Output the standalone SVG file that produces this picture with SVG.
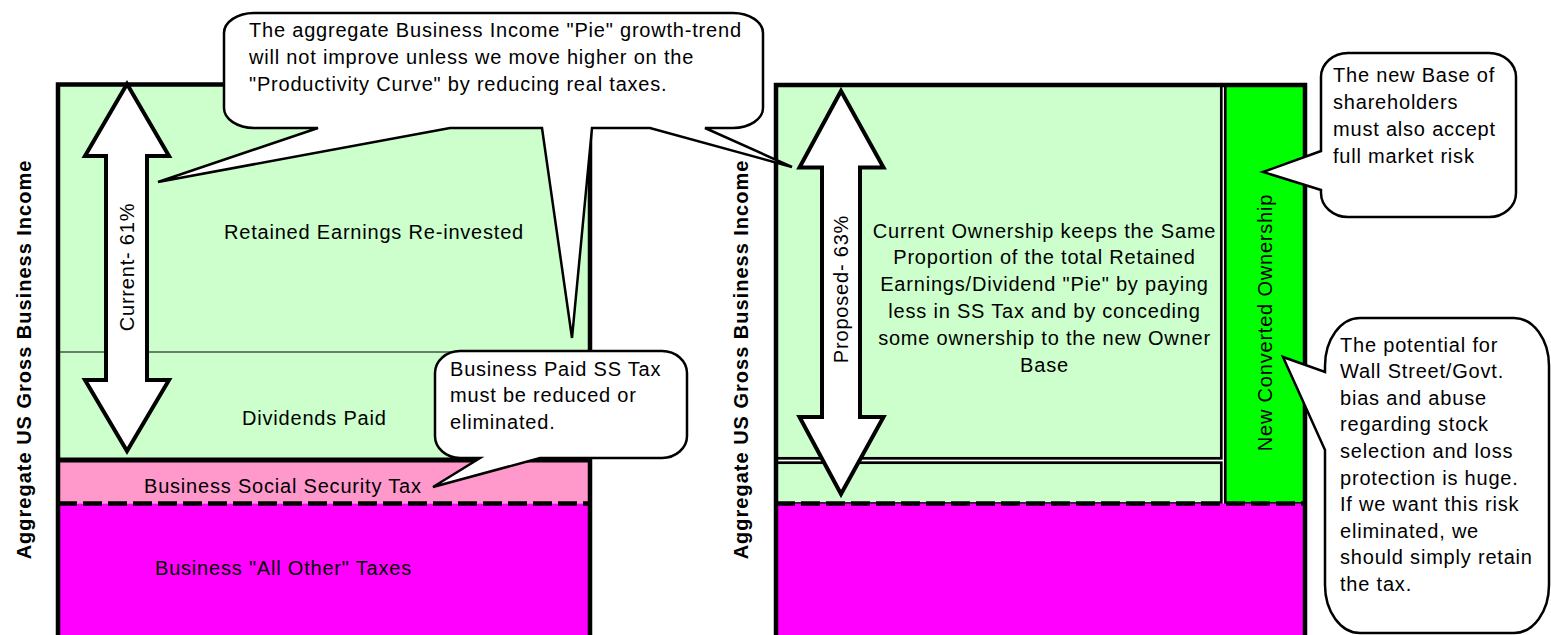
<svg xmlns="http://www.w3.org/2000/svg" width="1551" height="635" viewBox="0 0 1551 635">
<style>
text{font-family:"Liberation Sans",Arial,sans-serif;font-size:20px;fill:#000;letter-spacing:0.8px}
.b{font-weight:bold;letter-spacing:1px}
.c{text-anchor:middle}
.call{fill:#fff;stroke:#000;stroke-width:2.5;stroke-linejoin:miter}
.arr{fill:#fff;stroke:#000;stroke-width:4;stroke-linejoin:miter;stroke-miterlimit:10}
.dash{stroke:#000;stroke-width:4.5;stroke-dasharray:19 6;fill:none}
.border{fill:none;stroke:#000;stroke-width:4.5}
.thin{stroke:#000;stroke-width:2.7}
</style>
<rect width="1551" height="635" fill="#fff"/>

<g id="label-left">
<text class="b c" transform="translate(31,359.5) rotate(-90)">Aggregate US Gross Business Income</text>
</g>
<g id="label-right">
<text class="b c" transform="translate(748,359.5) rotate(-90)">Aggregate US Gross Business Income</text>
</g>

<g id="current-box">
<rect x="58" y="84.5" width="532" height="375" fill="#CCFFCC"/>
<rect x="58" y="459.5" width="532" height="44" fill="#FF99CC"/>
<rect x="58" y="503.5" width="532" height="140" fill="#FF00FF"/>
<line x1="58" y1="352" x2="590" y2="352" stroke="#000" stroke-width="1.2"/>
<line x1="58" y1="460" x2="590" y2="460" stroke="#000" stroke-width="5"/>
<line x1="58" y1="503.5" x2="590" y2="503.5" class="dash"/>
<path class="border" d="M58 640 V84.5 H590 V640"/>
<text x="224" y="239">Retained Earnings Re-invested</text>
<text x="242" y="425">Dividends Paid</text>
<text x="144" y="493">Business Social Security Tax</text>
<text x="155" y="575">Business "All Other" Taxes</text>
</g>

<g id="proposed-box">
<rect x="776" y="85" width="445.3" height="373.3" fill="#CCFFCC" class="thin"/>
<rect x="776" y="462.7" width="445.3" height="40.8" fill="#CCFFCC" class="thin"/>
<rect x="1225.3" y="85" width="79.7" height="418.5" fill="#00FF00" class="thin"/>
<rect x="776" y="503.5" width="529" height="140" fill="#FF00FF"/>
<line x1="776" y1="503.5" x2="1305" y2="503.5" class="dash"/>
<path class="border" d="M776 640 V85 H1305 V640"/>
<text class="c" x="1044.5" y="237.5">Current Ownership keeps the Same</text>
<text class="c" x="1044.5" y="264.3">Proportion of the total Retained</text>
<text class="c" x="1044.5" y="291.1">Earnings/Dividend "Pie" by paying</text>
<text class="c" x="1044.5" y="317.9">less in SS Tax and by conceding</text>
<text class="c" x="1044.5" y="344.7">some ownership to the new Owner</text>
<text class="c" x="1044.5" y="371.5">Base</text>
<text class="c" transform="translate(1272,322.5) rotate(-90)">New Converted Ownership</text>
</g>

<g id="current-arrow">
<polygon class="arr" points="127,84 169,156 147,156 147,380 169,380 127,451 85,380 106,380 106,156 85,156"/>
<text class="c" transform="translate(134,267) rotate(-90)">Current- 61%</text>
</g>

<g id="proposed-arrow">
<polygon class="arr" points="841,91 883.5,167.5 860,167.5 860,417 883.5,417 841,494 799.5,417 822,417 822,167.5 799.5,167.5"/>
<text class="c" transform="translate(848,289) rotate(-90)">Proposed- 63%</text>
</g>

<g id="callout-pie">
<path class="call" d="M254 13 H733 A30 20 0 0 1 763 33 V108 A30 20 0 0 1 733 128 H705 L792 167 L650 128 H592 L572 338 L542 128 H450 L158 182 L318 128 H254 A30 20 0 0 1 224 108 V33 A30 20 0 0 1 254 13 Z"/>
<text x="249" y="37">The aggregate Business Income "Pie" growth-trend</text>
<text x="249" y="64">will not improve unless we move higher on the</text>
<text x="249" y="91">"Productivity Curve" by reducing real taxes.</text>
</g>

<g id="callout-sstax">
<path class="call" d="M460 351 H662 A25 22 0 0 1 687 373 V436 A25 22 0 0 1 662 458 H540 L433 487 L480 458 H460 A25 22 0 0 1 435 436 V373 A25 22 0 0 1 460 351 Z"/>
<text x="450" y="376">Business Paid SS Tax</text>
<text x="450" y="402">must be reduced or</text>
<text x="450" y="429">eliminated.</text>
</g>

<g id="callout-newbase">
<path class="call" d="M1348 53 H1489 A27 24 0 0 1 1516 77 V193 A27 24 0 0 1 1489 217 H1348 A27 24 0 0 1 1321 193 V190 L1263 172 L1321 151 V77 A27 24 0 0 1 1348 53 Z"/>
<text x="1333" y="82">The new Base of</text>
<text x="1333" y="109">shareholders</text>
<text x="1333" y="136">must also accept</text>
<text x="1333" y="163">full market risk</text>
</g>

<g id="callout-risk">
<path class="call" d="M1360 318 H1514 A35 48 0 0 1 1549 366 V585 A35 48 0 0 1 1514 633 H1360 A35 48 0 0 1 1325 585 V450 L1283 357 L1325 372 V366 A35 48 0 0 1 1360 318 Z"/>
<text x="1340" y="351.5">The potential for</text>
<text x="1340" y="378.1">Wall Street/Govt.</text>
<text x="1340" y="404.7">bias and abuse</text>
<text x="1340" y="431.3">regarding stock</text>
<text x="1340" y="457.9">selection and loss</text>
<text x="1340" y="484.5">protection is huge.</text>
<text x="1340" y="511.1">If we want this risk</text>
<text x="1340" y="537.7">eliminated, we</text>
<text x="1340" y="564.3">should simply retain</text>
<text x="1340" y="590.9">the tax.</text>
</g>
</svg>
